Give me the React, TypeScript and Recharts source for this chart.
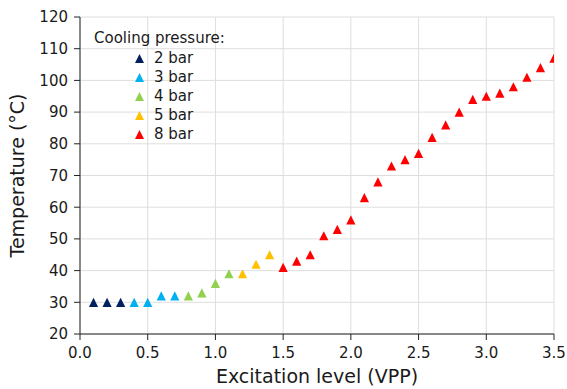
import React from "react";
import {
  ScatterChart,
  Scatter,
  XAxis,
  YAxis,
  CartesianGrid,
  Legend,
} from "recharts";

// excitation level (VPP) and temperature (°C) per cooling pressure
const bar2X = [0.1, 0.2, 0.3];
const bar2Y = [30, 30, 30];
const bar3X = [0.4, 0.5, 0.6, 0.7];
const bar3Y = [30, 30, 32, 32];
const bar4X = [0.8, 0.9, 1.0, 1.1];
const bar4Y = [32, 33, 36, 39];
const bar5X = [1.2, 1.3, 1.4];
const bar5Y = [39, 42, 45];
const bar8X = [
  1.5, 1.6, 1.7, 1.8, 1.9, 2.0, 2.1, 2.2, 2.3, 2.4, 2.5, 2.6, 2.7, 2.8, 2.9,
  3.0, 3.1, 3.2, 3.3, 3.4, 3.5,
];
const bar8Y = [
  41, 43, 45, 51, 53, 56, 63, 68, 73, 75, 77, 82, 86, 90, 94, 95, 96, 98, 101,
  104, 107,
];

const xTicks = [0, 0.5, 1, 1.5, 2, 2.5, 3, 3.5];
const yTicks = [20, 30, 40, 50, 60, 70, 80, 90, 100, 110, 120];

const zip = (xs: number[], ys: number[]) => xs.map((x, i) => ({ x, y: ys[i] }));

const series = [
  { name: "2 bar", color: "#002060", data: zip(bar2X, bar2Y) },
  { name: "3 bar", color: "#00b0f0", data: zip(bar3X, bar3Y) },
  { name: "4 bar", color: "#92d050", data: zip(bar4X, bar4Y) },
  { name: "5 bar", color: "#ffc000", data: zip(bar5X, bar5Y) },
  { name: "8 bar", color: "#ff0000", data: zip(bar8X, bar8Y) },
];

const FONT = "'DejaVu Sans', sans-serif";
const TEXT = "#1a1a1a";

// matplotlib style "^" marker: width == height
const Tri = (props: any) => {
  const { cx, cy, fill } = props;
  const h = 4.6;
  return (
    <path
      d={`M${cx},${cy - h}L${cx + h},${cy + h}L${cx - h},${cy + h}Z`}
      fill={fill}
    />
  );
};

const renderLegend = (props: any) => {
  const items = props.payload || [];
  return (
    <div style={{ fontFamily: FONT, fontSize: 15, color: TEXT, lineHeight: "19.2px" }}>
      <div style={{ height: 20.5 }}>Cooling pressure:</div>
      {items.map((p: any) => (
        <div
          key={p.value}
          style={{ display: "flex", alignItems: "center", height: 19.1 }}
        >
          <svg width={9} height={9} style={{ marginLeft: 41 }}>
            <path d="M4.5,0L9,9L0,9Z" fill={p.color} />
          </svg>
          <span style={{ marginLeft: 10 }}>{p.value}</span>
        </div>
      ))}
    </div>
  );
};

const YLabel = (props: any) => {
  const { viewBox } = props;
  const cy = viewBox.y + viewBox.height / 2;
  return (
    <text
      transform={`translate(24,${cy}) rotate(-90)`}
      textAnchor="middle"
      fontFamily={FONT}
      fontSize={19}
      fill={TEXT}
    >
      Temperature (°C)
    </text>
  );
};

const App = () => {
  return (
    <div style={{ position: "absolute", left: 0, top: 0 }}>
      <ScatterChart
        width={567}
        height={389}
        margin={{ top: 17, right: 13, bottom: 0, left: 0 }}
      >
        <CartesianGrid stroke="#dedede" strokeWidth={1} />
        <XAxis
          type="number"
          dataKey="x"
          domain={[0, 3.5]}
          ticks={xTicks}
          tickFormatter={(v: number) => v.toFixed(1)}
          height={55}
          tickSize={6}
          tickMargin={7}
          allowDataOverflow
          axisLine={{ stroke: "#222" }}
          tickLine={{ stroke: "#222" }}
          tick={{ fill: TEXT, fontSize: 15, fontFamily: FONT }}
          label={{
            value: "Excitation level (VPP)",
            position: "insideBottom",
            offset: 6,
            fill: TEXT,
            fontSize: 19,
            fontFamily: FONT,
          }}
        />
        <YAxis
          type="number"
          dataKey="y"
          domain={[20, 120]}
          ticks={yTicks}
          width={80}
          tickSize={6}
          tickMargin={6}
          allowDataOverflow
          axisLine={{ stroke: "#222" }}
          tickLine={{ stroke: "#222" }}
          tick={{ fill: TEXT, fontSize: 15, fontFamily: FONT }}
          label={{ content: YLabel }}
        />
        <XAxis
          xAxisId="top"
          orientation="top"
          type="number"
          domain={[0, 3.5]}
          height={0}
          tick={false}
          tickLine={false}
          axisLine={{ stroke: "#222" }}
        />
        <YAxis
          yAxisId="right"
          orientation="right"
          type="number"
          domain={[20, 120]}
          width={0}
          tick={false}
          tickLine={false}
          axisLine={{ stroke: "#222" }}
        />
        <Legend
          layout="vertical"
          align="center"
          verticalAlign="middle"
          wrapperStyle={{ left: 94, top: 28.5, width: "auto" }}
          content={renderLegend}
        />
        {series.map((s) => (
          <Scatter
            key={s.name}
            name={s.name}
            data={s.data}
            fill={s.color}
            shape={Tri}
            isAnimationActive={false}
          />
        ))}
      </ScatterChart>
    </div>
  );
};

export default App;
